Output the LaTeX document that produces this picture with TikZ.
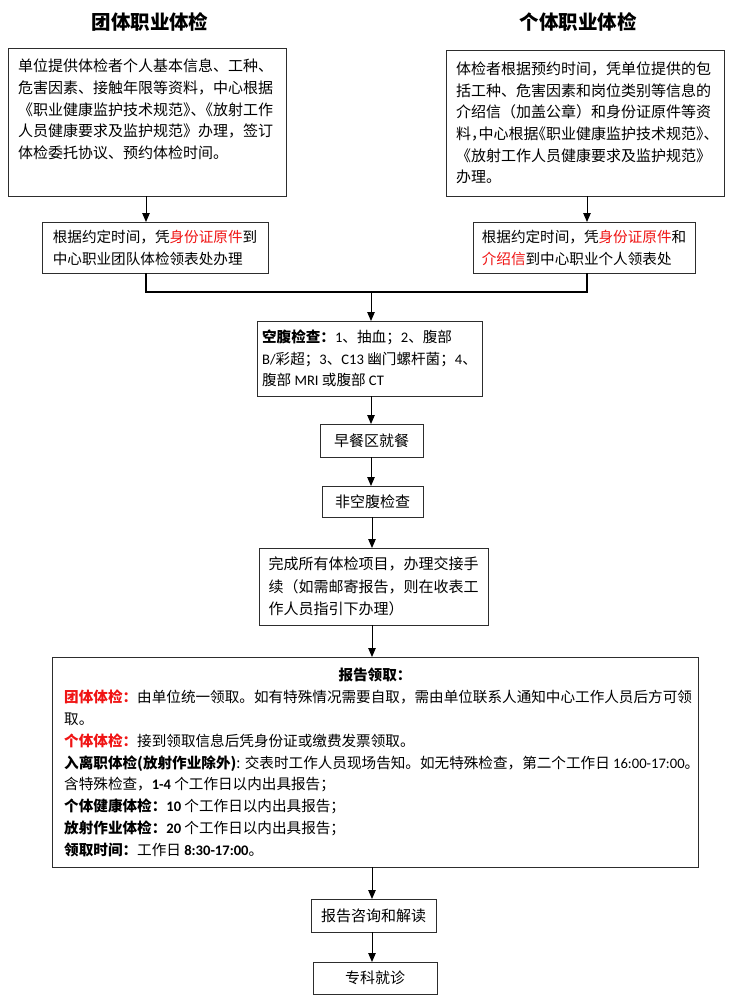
\documentclass[tikz,border=0pt]{standalone}
\usepackage{fontspec}
\setmainfont{Noto Sans CJK SC}
\newfontfamily\lat{Carlito}
\usetikzlibrary{arrows.meta,calc}
\definecolor{rd}{RGB}{240,20,20}
\definecolor{edge}{RGB}{45,45,45}
\newcommand\hw[1]{{\addfontfeature{RawFeature=+halt}#1}}
\tikzset{
  box/.style={draw=edge, line width=1pt, inner sep=0pt, outer sep=0pt},
  txt/.style={inner sep=0pt, align=left, font=\fontsize{15pt}{21.7pt}\selectfont},
  txtb/.style={inner sep=0pt, align=left, font=\fontsize{14.6pt}{21.8pt}\selectfont},
  arr/.style={line width=1pt, draw=black, -{Triangle[length=9pt,width=7.5pt]}},
  joinline/.style={line width=2.2pt},
  ttl/.style={font=\fontsize{19.5pt}{22pt}\selectfont\bfseries, inner sep=0pt}
}
\begin{document}
\begin{tikzpicture}[x=1pt,y=-1pt]
\useasboundingbox[fill=white] (0,0) rectangle (746,1002);
% titles
\node[ttl] (tg) at (150,22) {团体职业体检};
\node[ttl] (tp) at (578,22) {个体职业体检};
% top boxes
\node[box, minimum width=278pt, minimum height=148pt] (g1) at (147,122) {};
\node[txt, anchor=west] (g1t) at (18,109.5) {单位提供体检者个人基本信息、工种、\\危害因素、接触年限等资料，中心根据\\《职业健康监护技术规范\hw{》、}《放射工作\\人员健康要求及监护规范》办理，签订\\体检委托协议、预约体检时间。};
\node[box, minimum width=278pt, minimum height=146pt] (p1) at (585,123) {};
\node[txt, anchor=west] (p1t) at (456,123) {体检者根据预约时间，凭单位提供的包\\括工种、危害因素和岗位类别等信息的\\介绍信（加盖公章）和身份证原件等资\\料\hw{，}中心根据\hw{《}职业健康监护技术规范\hw{》、}\\《放射工作人员健康要求及监护规范》\\办理。};
% second row
\node[box, minimum width=226pt, minimum height=51pt] (g2) at (155,247.5) {};
\node[txt, font=\fontsize{14.6pt}{22pt}\selectfont] (g2t) at (g2) {根据约定时间，凭{\color{rd}身份证原件}到\\中心职业团队体检领表处办理};
\node[box, minimum width=222pt, minimum height=51pt] (p2) at (584,247.5) {};
\node[txt, font=\fontsize{14.6pt}{22pt}\selectfont] (p2t) at (p2) {根据约定时间，凭{\color{rd}身份证原件}和\\{\color{rd}介绍信}到中心职业个人领表处};
% central column
\node[box, minimum width=225pt, minimum height=75pt] (f) at (369.5,358.5) {};
\node[txt, font=\fontsize{14.6pt}{21.5pt}\selectfont] (ft) at (f) {\textbf{空腹检查：}{\lat 1}、抽血；{\lat 2}、腹部\\{\lat B/}彩超；{\lat 3}、{\lat C13} 幽门螺杆菌；{\lat 4}、\\腹部 {\lat MRI} 或腹部 {\lat CT}};
\node[box, minimum width=103pt, minimum height=33pt] (b) at (371.5,440.5) {};
\node[txt] (bt) at (b) {早餐区就餐};
\node[box, minimum width=101pt, minimum height=31pt] (n) at (372.5,501.5) {};
\node[txt] (nt) at (n) {非空腹检查};
\node[box, minimum width=229pt, minimum height=77pt] (c) at (373.5,586.5) {};
\node[txt, font=\fontsize{15pt}{22.5pt}\selectfont] (ct) at (c) {完成所有体检项目，办理交接手\\续（如需邮寄报告，则在收表工\\作人员指引下办理）};
% report box
\node[box, minimum width=646pt, minimum height=210pt] (r) at (375,762) {};
\node[txtb, font=\fontsize{14.6pt}{21.8pt}\selectfont\bfseries] (rh) at (375,675) {报告领取：};
\node[txtb, anchor=west] (rt) at (64,773.5) {{\color{rd}\textbf{团体体检：}}由单位统一领取。如有特殊情况需要自取，需由单位联系人通知中心工作人员后方可领\\取。\\{\color{rd}\textbf{个体体检：}}接到领取信息后凭身份证或缴费发票领取。\\\textbf{入离职体检({}放射作业除外)}: 交表时工作人员现场告知。如无特殊检查，第二个工作日 {\lat 16:00-17:00}。\\含特殊检查，\textbf{\lat 1-4} 个工作日以内出具报告；\\\textbf{个体健康体检：\lat 10} 个工作日以内出具报告；\\\textbf{放射作业体检：\lat 20} 个工作日以内出具报告；\\\textbf{领取时间：}工作日 \textbf{\lat 8:30-17:00}。};
\node[box, minimum width=125pt, minimum height=33pt] (q) at (373.5,915.5) {};
\node[txt] (qt) at (q) {报告咨询和解读};
\node[box, minimum width=124pt, minimum height=32pt] (s) at (375,978) {};
\node[txt] (st) at (s) {专科就诊};
% connectors
\draw[arr] (g1.south -| 146,0) -- (g2.north -| 146,0);
\draw[arr] (p1.south -| 587,0) -- (p2.north -| 587,0);
\coordinate (j) at (371,292);
\draw[joinline] (g2.south -| 146,0) |- (j) -| (p2.south -| 587,0);
\draw[arr] (j) -- (f.north -| j);
\draw[arr] (f.south -| j) -- (b.north -| j);
\draw[arr] (b.south -| j) -- (n.north -| j);
\draw[arr] (n.south -| 372,0) -- (c.north -| 372,0);
\draw[arr] (c.south -| 372,0) -- (r.north -| 372,0);
\draw[arr] (r.south -| 372,0) -- (q.north -| 372,0);
\draw[arr] (q.south -| 372,0) -- (s.north -| 372,0);
\end{tikzpicture}
\end{document}
